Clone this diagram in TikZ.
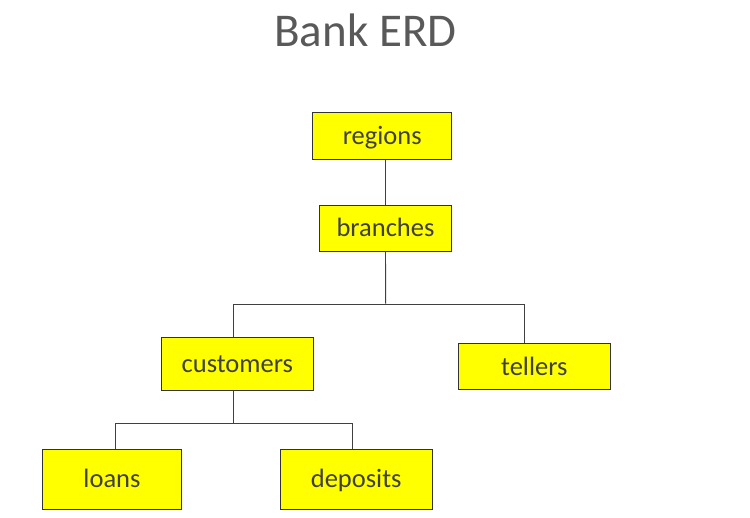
\documentclass[tikz,border=0pt]{standalone}
\usepackage{fontspec}
\setmainfont{Carlito}
\usetikzlibrary{positioning}
\definecolor{textgray}{RGB}{64,64,64}
\definecolor{titlegray}{RGB}{89,89,89}
\definecolor{boxyellow}{RGB}{255,255,0}
\tikzset{
    entity/.style={rectangle, draw=black!80, fill=boxyellow, line width=0.8pt, inner sep=0pt, minimum width=152pt, text height=20pt, text depth=3pt, font=\fontsize{26.5}{30}\selectfont, text=textgray},
    narrow entity/.style={entity, minimum width=139pt},
    link/.style={draw=black!75, line width=0.9pt},
    title/.style={font=\fontsize{47}{56}\selectfont, text=titlegray}
}

\begin{document}
\begin{tikzpicture}[x=1pt, y=-1pt]
    \useasboundingbox (0,0) rectangle (750,518);

    % Title
    \node[title, anchor=base] (title) at (365.5,47) {Bank ERD};

    % Entities
    \node[narrow entity, minimum height=47pt] (regions) at (382.2,136) {regions};
    \node[entity, minimum width=132pt, minimum height=46pt] (branches) at (385.5,228.3) {branches};
    \node[entity, minimum height=53pt] (customers) at (237.3,363.7) {customers};
    \node[entity, minimum height=46pt] (tellers) at (534.3,366.8) {tellers};
    \node[narrow entity, minimum height=60pt] (loans) at (112,479.2) {loans};
    \node[entity, minimum height=60pt] (deposits) at (356.2,479.2) {deposits};

    % Split points of the tree
    \coordinate (bsplit) at (385.7,304);
    \coordinate (csplit) at (233.7,423);

    % Connectors
    \draw[link] (regions.south -| branches.north) -- (branches.north);
    \draw[link] (branches.south) -- (bsplit);
    \draw[link] (bsplit) -| ([xshift=-3.6pt]customers.north);
    \draw[link] (bsplit) -| ([xshift=-10pt]tellers.north);
    \draw[link] ([xshift=-3.6pt]customers.south) -- (csplit);
    \draw[link] (csplit) -| ([xshift=3pt]loans.north);
    \draw[link] (csplit) -| ([xshift=-3.5pt]deposits.north);
\end{tikzpicture}
\end{document}
